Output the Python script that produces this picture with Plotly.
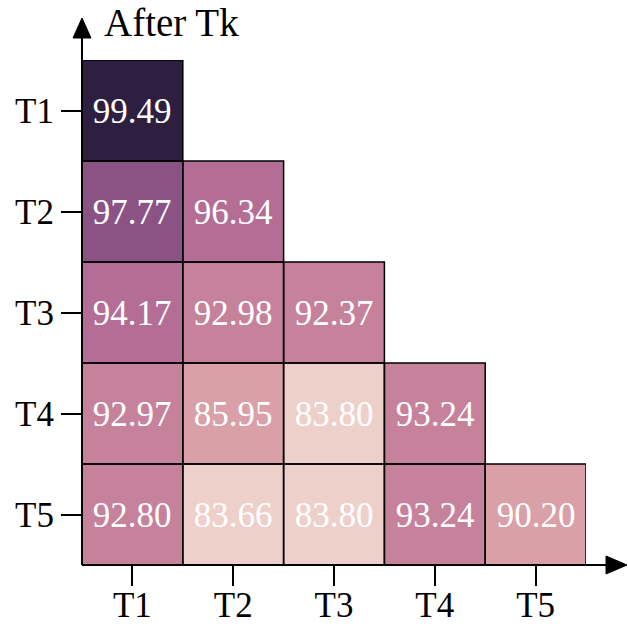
import plotly.graph_objects as go

tasks = ["T1", "T2", "T3", "T4", "T5"]
# accuracy on each task (columns) after training on task Tk (rows)
acc = [
    [99.49, None, None, None, None],
    [97.77, 96.34, None, None, None],
    [94.17, 92.98, 92.37, None, None],
    [92.97, 85.95, 83.80, 93.24, None],
    [92.80, 83.66, 83.80, 93.24, 90.20],
]
y_title = "After Tk"

# stepped palette
zmin, zmax = 83.0, 100.0
edges = [85.0, 91.0, 94.0, 97.0, 99.0]
colors = ["#eed0cb", "#d9a0a8", "#c7829b", "#b46e96", "#8b5384", "#2e1f40"]
stops = [0.0] + [(e - zmin) / (zmax - zmin) for e in edges] + [1.0]
colorscale = []
for i, c in enumerate(colors):
    colorscale.append([stops[i], c])
    colorscale.append([stops[i + 1], c])

text = [["" if v is None else f"{v:.2f}" for v in row] for row in acc]

FONT = "Liberation Serif"

fig = go.Figure(go.Heatmap(
    z=acc, x=tasks, y=tasks, text=text, texttemplate="%{text}",
    textfont=dict(family=FONT, size=35, color="white"),
    colorscale=colorscale, zmin=zmin, zmax=zmax, showscale=False,
    hoverongaps=False,
))

# black outline round every filled cell
for r, row in enumerate(acc):
    for c, v in enumerate(row):
        if v is None:
            continue
        fig.add_shape(type="rect", xref="x", yref="y",
                      x0=c - 0.5, x1=c + 0.5, y0=r - 0.5, y1=r + 0.5,
                      line=dict(color="black", width=1.5), layer="above")

# axis lines with arrow heads
fig.add_shape(type="line", xref="paper", yref="paper", x0=0, x1=1.05, y0=0, y1=0,
              line=dict(color="black", width=2))
fig.add_shape(type="line", xref="paper", yref="paper", x0=0, x1=0, y0=0, y1=1.045,
              line=dict(color="black", width=2))
fig.add_shape(type="path", xsizemode="pixel", ysizemode="pixel",
              xref="paper", yref="paper", xanchor=0, yanchor=0,
              path="M 524 -9 L 545 0 L 524 9 Z", fillcolor="black",
              line=dict(color="black", width=1))
fig.add_shape(type="path", xsizemode="pixel", ysizemode="pixel",
              xref="paper", yref="paper", xanchor=0, yanchor=0,
              path="M -9 527 L 0 547 L 9 527 Z", fillcolor="black",
              line=dict(color="black", width=1))

fig.add_annotation(text=y_title, xref="paper", yref="paper", x=0.04, y=1.075,
                   xanchor="left", yanchor="middle", showarrow=False,
                   font=dict(family=FONT, size=39, color="black"))

axis_common = dict(showgrid=False, zeroline=False, showline=False, automargin=False,
                   ticks="outside", ticklen=20, tickwidth=1.5, tickcolor="black",
                   tickfont=dict(family=FONT, size=35, color="black"))
fig.update_xaxes(range=[-0.5, 4.5], ticklabelstandoff=-11, **axis_common)
fig.update_yaxes(range=[4.5, -0.5], **axis_common)

fig.update_layout(
    width=628, height=624,
    margin=dict(l=82, r=42, t=60, b=59),
    plot_bgcolor="white", paper_bgcolor="white",
)

fig.write_html("out.html")
